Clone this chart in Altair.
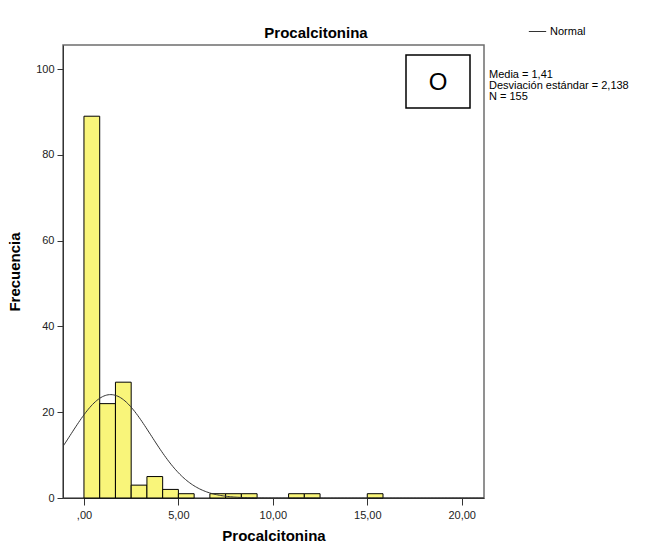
import altair as alt
import numpy as np
import pandas as pd

# Histogram of procalcitonin values (bins of width 5/6 starting at 0)
BIN_WIDTH = 5 / 6
COUNTS = [89, 22, 27, 3, 5, 2, 1, 0, 1, 1, 1, 0, 0, 1, 1, 0, 0, 0, 1]

# Summary statistics shown next to the plot
MEDIA = 1.41
DESV = 2.138
N = 155

X_DOMAIN = [-1.11, 21.18]
Y_DOMAIN = [0, 105.6]
X_TICKS = [0, 5, 10, 15, 20]
Y_TICKS = [0, 20, 40, 60, 80, 100]

STATS_LINES = ["Media = 1,41", "Desviación estándar = 2,138", "N = 155"]

FONT = "Liberation Sans, Arial, sans-serif"

bars = pd.DataFrame({
    "inicio": [i * BIN_WIDTH for i in range(len(COUNTS))],
    "fin": [(i + 1) * BIN_WIDTH for i in range(len(COUNTS))],
    "frecuencia": COUNTS,
    "base": 0,
})
bars = bars[bars["frecuencia"] > 0]

# Normal curve scaled to counts: N * bin width * density
xs = np.linspace(X_DOMAIN[0], X_DOMAIN[1], 300)
ys = N * BIN_WIDTH * np.exp(-0.5 * ((xs - MEDIA) / DESV) ** 2) / (DESV * np.sqrt(2 * np.pi))
curve = pd.DataFrame({"x": xs, "y": ys, "serie": "Normal"})

x_scale = alt.Scale(domain=X_DOMAIN, nice=False, zero=False)
y_scale = alt.Scale(domain=Y_DOMAIN, nice=False)

x_axis = alt.Axis(
    values=X_TICKS,
    title="Procalcitonina",
    labelExpr="datum.value == 0 ? ',00' : replace(format(datum.value, '.2f'), '.', ',')",
    grid=False,
    tickSize=7,
    labelPadding=4,
    titlePadding=8,
)
y_axis = alt.Axis(
    values=Y_TICKS, title="Frecuencia", grid=False,
    tickSize=6, labelPadding=3, titlePadding=13,
)

bar_layer = alt.Chart(bars).mark_bar(
    fill="#F9F57A", stroke="#000000", strokeWidth=1, opacity=1
).encode(
    x=alt.X("inicio:Q", scale=x_scale, axis=x_axis),
    x2="fin:Q",
    y=alt.Y("frecuencia:Q", scale=y_scale, axis=y_axis),
    y2="base:Q",
)

curve_layer = alt.Chart(curve).mark_line(strokeWidth=1, clip=True).encode(
    x=alt.X("x:Q", scale=x_scale),
    y=alt.Y("y:Q", scale=y_scale),
    color=alt.Color(
        "serie:N",
        scale=alt.Scale(range=["#333333"]),
        legend=alt.Legend(
            orient="none",
            legendX=465,
            legendY=-23,
            title=None,
            symbolType="stroke",
            symbolSize=300,
            symbolStrokeWidth=1,
            labelFont=FONT,
            labelFontSize=11,
            labelColor="#000000",
            labelOffset=3,
        ),
    ),
)

one = pd.DataFrame({"k": [0]})

title = alt.Chart(one).mark_text(
    font=FONT, fontSize=15, fontWeight="bold", color="black", align="center", baseline="alphabetic"
).encode(x=alt.value(253), y=alt.value(-7), text=alt.value("Procalcitonina"))

box = alt.Chart(one).mark_rect(
    fill="white", stroke="black", strokeWidth=1.5
).encode(
    x=alt.value(343), x2=alt.value(407), y=alt.value(10), y2=alt.value(63)
)

box_text = alt.Chart(one).mark_text(
    font=FONT, fontSize=24, color="black", align="center", baseline="middle"
).encode(x=alt.value(375), y=alt.value(38), text=alt.value("O"))

stats = alt.Chart(one).mark_text(
    font=FONT, fontSize=11, color="black", align="left", baseline="top", lineHeight=11
).encode(x=alt.value(426), y=alt.value(24), text=alt.value(STATS_LINES))

chart = alt.layer(bar_layer, curve_layer, title, box, box_text, stats).properties(
    width=421,
    height=453,
    autosize=alt.AutoSizeParams(type="none"),
    padding={"left": 63, "top": 45, "right": 163, "bottom": 52},
).configure_view(
    stroke="#6e6e6e", strokeWidth=1.5
).configure_axis(
    labelFont=FONT,
    labelFontSize=11,
    labelColor="#222222",
    titleFont=FONT,
    titleFontSize=15,
    titleFontWeight="bold",
    titleColor="black",
    domainColor="#333333",
    tickColor="#333333",
)

chart.save("out.html", embed_options={"renderer": "svg", "actions": False})
